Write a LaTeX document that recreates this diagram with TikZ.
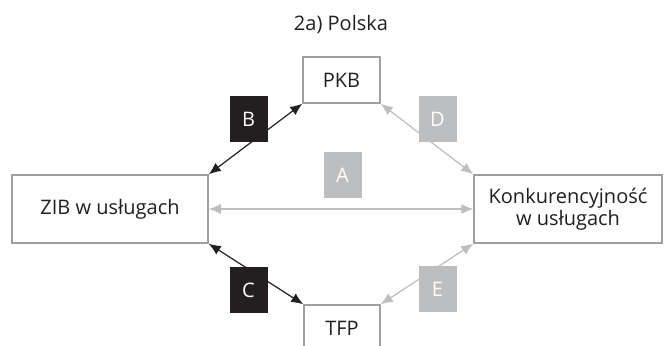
\documentclass[tikz,border=0pt]{standalone}
\usepackage{fontspec}
\setmainfont{Open Sans}
\usetikzlibrary{arrows.meta,positioning}

\definecolor{boxgray}{HTML}{9D9FA2}
\definecolor{lightgray}{HTML}{BCBEC0}
\definecolor{darkink}{HTML}{231F20}

\tikzset{
  factor/.style={draw=boxgray,line width=0.75pt,fill=white,text=darkink,
    align=center,font=\fontsize{10}{12}\selectfont,inner sep=0pt},
  tag/.style={minimum width=19pt,minimum height=23pt,inner sep=0pt,
    text=white,font=\fontsize{10}{12}\selectfont},
  darktag/.style={tag,fill=darkink},
  greytag/.style={tag,fill=lightgray},
  darklink/.style={{Latex[length=6pt,width=5pt]}-{Latex[length=6pt,width=5pt]},
    line width=0.6pt,darkink},
  greylink/.style={{Latex[length=6pt,width=5pt]}-{Latex[length=6pt,width=5pt]},
    line width=0.6pt,lightgray}
}

\begin{document}
\begin{tikzpicture}[x=0.5pt,y=-0.5pt]
      \clip (0,0) rectangle (665,346);
      \fill[white] (0,0) rectangle (665,346);
      \node[font=\fontsize{10}{12}\selectfont,text=darkink] (title) at (341,24) {2a) Polska};
      % boxes
      \node[factor,minimum width=38.5pt,minimum height=23pt] (pkb) at (341.5,80) {PKB};
      \node[factor,minimum width=38pt,minimum height=23pt] (tfp) at (342,328) {TFP};
      \node[factor,minimum width=98pt,minimum height=34pt] (zib) at (110,209) {ZIB w usługach};
      \node[factor,minimum width=94pt,minimum height=34pt] (konk) at (568,209) {Konkurencyjność\\[-1pt]w usługach};
      % links
      \draw[darklink] (zib.north east) -- (pkb.south west);
      \draw[darklink] (zib.south east) -- (tfp.north west);
      \draw[greylink] (pkb.south east) -- (konk.north west);
      \draw[greylink] (tfp.north east) -- (konk.south west);
      \draw[greylink] (zib.east) -- (konk.west);
      % tags
      \node[greytag] (a) at (342.5,175.5) {A};
      \node[darktag] (b) at (248.5,119) {B};
      \node[darktag] (c) at (248.5,290) {C};
      \node[greytag] (d) at (437.5,119) {D};
      \node[greytag] (e) at (437.5,289) {E};
\end{tikzpicture}
\end{document}
